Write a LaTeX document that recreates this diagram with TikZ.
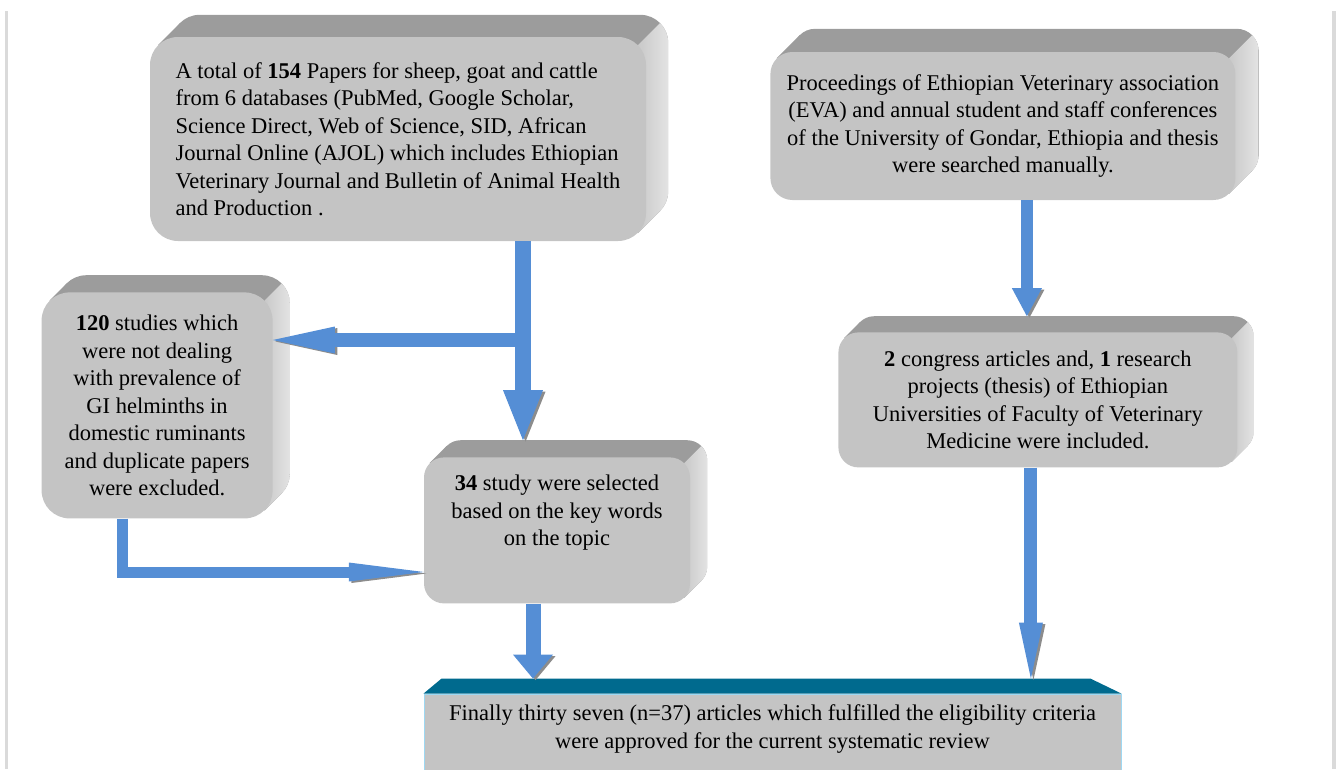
\documentclass[tikz,border=0pt]{standalone}
\usepackage{fontspec}
\setmainfont{Liberation Serif}
\usetikzlibrary{positioning,arrows.meta,backgrounds}
\definecolor{facegray}{HTML}{C4C4C4}
\definecolor{topgray}{HTML}{9C9C9C}
\definecolor{sidedark}{HTML}{C9C9C9}
\definecolor{sidelight}{HTML}{E3E3E3}
\definecolor{flowblue}{HTML}{558ED5}
\definecolor{tealtop}{HTML}{006A8E}
\definecolor{edgeblue}{HTML}{9ED8F2}
\definecolor{framegray}{HTML}{DADADA}
\newcommand\boxfont{\fontsize{22.5}{27.5}\selectfont}

\begin{document}
\begin{tikzpicture}[x=1pt, y=-1pt,
	box/.style={fill=facegray, inner sep=0pt, align=center, font=\boxfont},
	final box/.style={fill=facegray, draw=edgeblue, line width=1pt, inner xsep=10pt, inner ysep=11pt, align=center, font=\boxfont, minimum width=697pt},
	flow/.style={draw=flowblue, line width=#1, preaction={draw=black!45, transform canvas={shift={(2.5pt,-1.5pt)}}}},
	frame/.style={draw=framegray, line width=3.5pt}]
	\useasboundingbox (0,0) rectangle (1336,769);
	\draw[frame] (6.5,11) -- (6.5,769);
	\draw[frame] (1334,11) -- (1334,769);

	\node[box, align=left, rounded corners=28pt, minimum width=496pt, minimum height=204pt] (papers) at (398,139)
		{A total of \textbf{154} Papers for sheep, goat and cattle\\ from 6 databases (PubMed, Google Scholar,\\ Science Direct, Web of Science, SID, African\\ Journal Online (AJOL) which includes Ethiopian\\ Veterinary Journal and Bulletin of Animal Health\\ and Production .};
	\node[box, rounded corners=22pt, minimum width=465pt, minimum height=148pt] (manual) [right=124pt of papers, yshift=13pt]
		{Proceedings of Ethiopian Veterinary association\\ (EVA) and annual student and staff conferences\\ of the University of Gondar, Ethiopia and thesis\\ were searched manually.};
	\node[box, rounded corners=20pt, minimum width=399pt, minimum height=135pt] (included) [below=132pt of manual, xshift=35pt]
		{\textbf{2} congress articles and, \textbf{1} research\\ projects (thesis) of Ethiopian\\ Universities of Faculty of Veterinary\\ Medicine were included.};
	\node[box, rounded corners=20pt, minimum width=266pt, minimum height=146pt] (selected) [below=216pt of papers, xshift=159pt]
		{\textbf{34} study were selected\\ based on the key words\\ on the topic\\[12pt]\mbox{}};
	\node[box, rounded corners=28pt, minimum width=231pt, minimum height=226pt] (excluded) [left=151pt of selected, yshift=125pt]
		{\textbf{120} studies which\\ were not dealing\\ with prevalence of\\ GI helminths in\\ domestic ruminants\\ and duplicate papers\\ were excluded.};
	\node[final box] (final) [below=90pt of selected, xshift=215.5pt]
		{Finally thirty seven (n=37) articles which fulfilled the eligibility criteria\\ were approved for the current systematic review\\[20pt]\mbox{}};
	\fill[tealtop] (final.north west) -- ++(18,-15) -- ([shift={(-31,-15)}]final.north east) -- (final.north east) -- cycle;

	\begin{scope}[on background layer]
		\foreach \n/\d/\r in {papers/22/28, manual/23/22, included/16/20, selected/17/20, excluded/17/28} {
			\fill[topgray, rounded corners=\r pt] ([shift={(\d,-\d)}]\n.south west) rectangle ([shift={(\d,-\d)}]\n.north east);
			\fill[topgray] ([shift={(0.2929*\r,0.2929*\r)}]\n.north west) -- ++(\d,-\d) -- ([shift={(\d-0.2929*\r,-\d-0.2929*\r)}]\n.south east) -- ([shift={(-0.2929*\r,-0.2929*\r)}]\n.south east) -- cycle;
			\shade[left color=sidedark, right color=sidelight] ([shift={(-0.2929*\r,0.2929*\r)}]\n.north east) -- ++(\d,-\d) arc[start angle=45, end angle=0, radius=\r pt] -- ([shift={(\d,-\d-\r)}]\n.south east) arc[start angle=0, end angle=-45, radius=\r pt] -- ([shift={(-0.2929*\r,-0.2929*\r)}]\n.south east) -- cycle;
		}
	\end{scope}

	\coordinate (trunk) at (523,340);
	\coordinate (elbow) at (122,572);
	\draw[flow=14pt, -{Triangle[length=62pt, width=27pt, line width=0pt]}] (trunk) -- (excluded.east |- trunk);
	\draw[flow=16pt, -{Triangle[length=50pt, width=40pt, line width=0pt]}, shorten >=17pt] (papers.south -| trunk) -- (selected.north -| trunk);
	\draw[flow=11pt, -{Triangle[length=75pt, width=19pt, line width=0pt]}] (excluded.south -| elbow) -- (elbow) -- (selected.west |- elbow);
	\draw[flow=12pt, -{Triangle[length=28pt, width=30pt, line width=0pt]}, shorten >=16pt] ([xshift=24pt]manual.south) -- ([xshift=24pt]manual.south |- included.north);
	\draw[flow=13pt, -{Triangle[length=56pt, width=24pt, line width=0pt]}, shorten >=15pt] ([xshift=-7pt]included.south) -- ([xshift=-7pt]included.south |- final.north);
	\draw[flow=15pt, -{Triangle[length=24pt, width=40pt, line width=0pt]}, shorten >=15pt] ([xshift=-24pt]selected.south) -- ([xshift=-24pt]selected.south |- final.north);
\end{tikzpicture}
\end{document}
